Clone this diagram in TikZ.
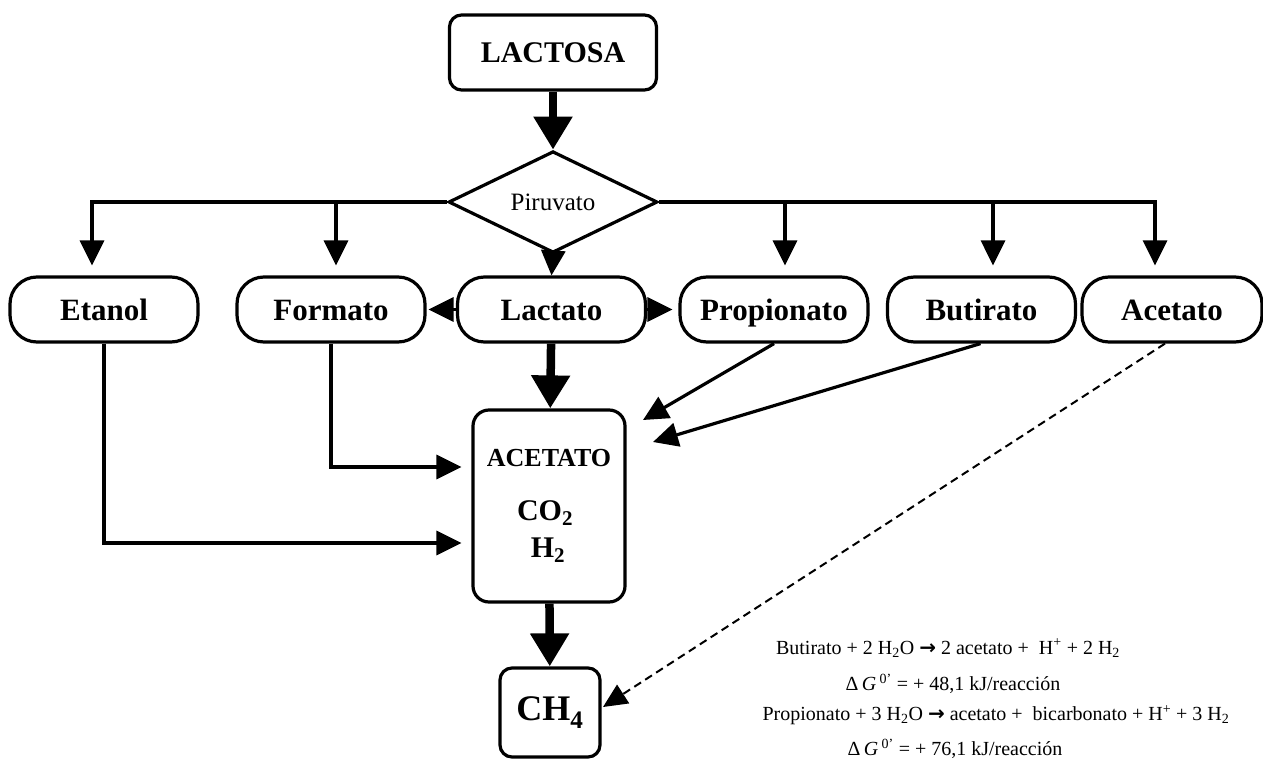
\documentclass[tikz,border=0pt]{standalone}
\usepackage{fontspec}
\setmainfont{Liberation Serif}
\newfontfamily\arrowfont{DejaVu Sans}
\usetikzlibrary{arrows.meta,shapes.geometric}

\begin{document}
\begin{tikzpicture}[x=1pt,y=-1pt,
  box/.style={draw, line width=3.2pt, rounded corners=#1, inner sep=0pt},
  box/.default=12pt,
  pill/.style={draw, line width=3.2pt, rounded corners=27pt, inner sep=0pt,
    minimum width=188pt, minimum height=65pt, text height=27pt, text depth=6pt,
    font=\bfseries\fontsize{31}{33}\selectfont},
  chem/.style={inner sep=0pt, font=\bfseries\fontsize{30}{32}\selectfont},
  eqn/.style={inner sep=0pt, font=\fontsize{20}{22}\selectfont},
  link/.style={line width=3.2pt, -{Triangle[width=24pt,length=25pt]}},
  heavy/.style={line width=8.5pt, -{Triangle[width=37pt,length=33pt]}},
  dashlink/.style={line width=2pt, dash pattern=on 8pt off 5pt,
    -{Triangle[width=22pt,length=24pt]}}
]
\useasboundingbox (0,0) rectangle (1263,784);

% source and branching point
\node[box, minimum width=207pt, minimum height=75pt,
  font=\bfseries\fontsize{30}{32}\selectfont] (lactosa) at (553,52.5) {LACTOSA};
\node[draw, line width=3.2pt, diamond, inner sep=0pt, minimum width=209pt,
  minimum height=77pt, font=\fontsize{25}{27}\selectfont] (piruvato) at (553,202) {Piruvato};

% fermentation products
\node[pill] (etanol) at (104,309.5) {Etanol};
\node[pill] (formato) at (331,309.5) {Formato};
\node[pill] (lactato) at (551.5,309.5) {Lactato};
\node[pill] (propionato) at (774,309.5) {Propionato};
\node[pill] (butirato) at (981.5,309.5) {Butirato};
\node[pill, minimum width=180pt] (acetato) at (1172,309.5) {Acetato};

% intermediate pool and methane
\node[box=16pt, minimum width=152pt, minimum height=192pt] (pool) at (549,506) {};
\node[chem, font=\bfseries\fontsize{26}{28}\selectfont] (acLabel) at (549,458) {ACETATO};
\node[chem] (co2) at (545,513) {CO\textsubscript{2}};
\node[chem] (h2) at (548,550) {H\textsubscript{2}};
\node[box, minimum width=100pt, minimum height=89pt,
  font=\bfseries\fontsize{36}{38}\selectfont] (ch4) at (550,712.5) {CH\textsubscript{4}};

% end points of the arrows that stop short of their boxes
\coordinate (pTip) at (643,420);
\coordinate (bTip) at (653,442);
\coordinate (dTip) at (603,707);

% main flow
\draw[heavy] (lactosa) -- (piruvato);
\draw[heavy] (lactato) -- (pool);
\draw[heavy] (pool) -- (ch4);

% branches from pyruvate
\draw[link, shorten >=10pt] (piruvato.west) -| ([xshift=-12pt]etanol.north);
\draw[link, shorten >=10pt] (piruvato.west) -| ([xshift=5pt]formato.north);
\draw[link] (piruvato.south) -- (lactato.north);
\draw[link, shorten >=10pt] (piruvato.east) -| ([xshift=11pt]propionato.north);
\draw[link, shorten >=10pt] (piruvato.east) -| ([xshift=11.5pt]butirato.north);
\draw[link, shorten >=10pt] (piruvato.east) -| ([xshift=-17pt]acetato.north);

% lactate side reactions
\draw[link, shorten >=2pt] (lactato.west) -- (formato.east);
\draw[link, shorten >=6pt] (lactato.east) -- (propionato.west);

% feeds into the pool
\draw[link, shorten >=10pt] (formato.south) |- ([yshift=39pt]pool.west);
\draw[link, shorten >=10pt] (etanol.south) |- ([yshift=-37pt]pool.west);
\draw[link] (propionato.south) -- (pTip);
\draw[link] ([xshift=-1pt]butirato.south) -- (bTip);
\draw[dashlink] ([xshift=-7pt]acetato.south) -- (dTip);

% reactions
\node[eqn] (eq1) at (948,648) {Butirato + 2 H\textsubscript{2}O {\arrowfont\bfseries →} 2 acetato +\ \ H\textsuperscript{+} + 2 H\textsubscript{2}};
\node[eqn] (eq2) at (953,684) {Δ\,\textit{G}\,\textsuperscript{0'} = + 48,1 kJ/reacción};
\node[eqn] (eq3) at (996,715) {Propionato + 3 H\textsubscript{2}O {\arrowfont\bfseries →} acetato +\ \ bicarbonato + H\textsuperscript{+} + 3 H\textsubscript{2}};
\node[eqn] (eq4) at (955,749) {Δ\,\textit{G}\,\textsuperscript{0'} = + 76,1 kJ/reacción};
\end{tikzpicture}
\end{document}
